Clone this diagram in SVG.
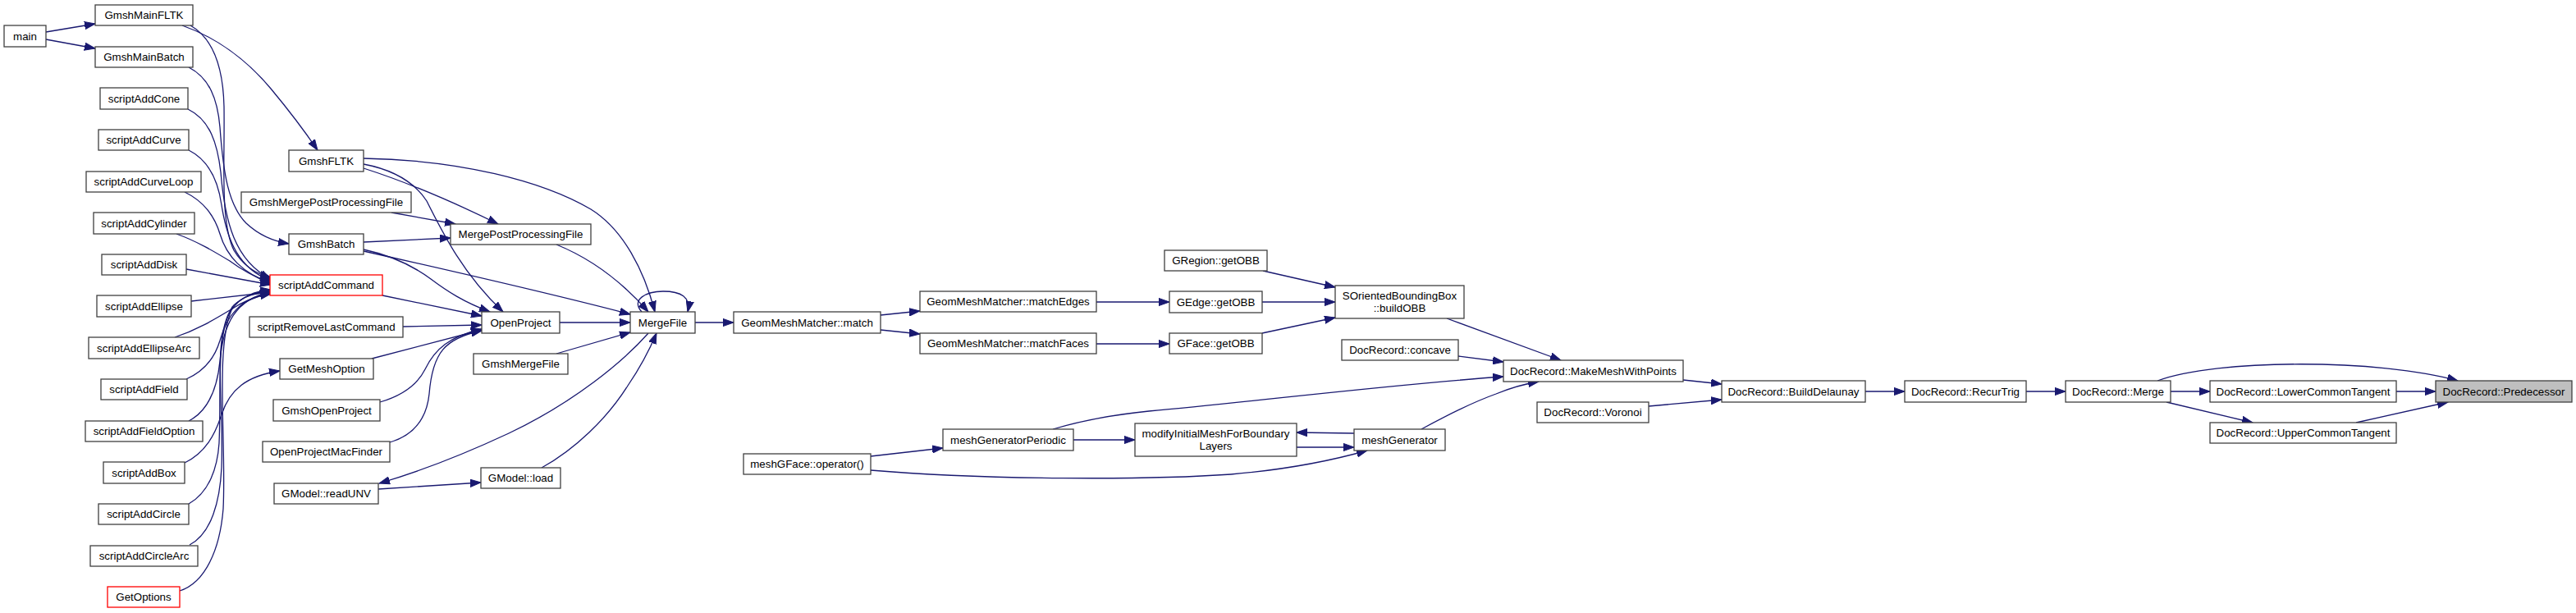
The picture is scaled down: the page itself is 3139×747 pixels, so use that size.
<svg xmlns="http://www.w3.org/2000/svg" width="3139" height="747" viewBox="0 0 3139 747">
<style>
.node rect{fill:#ffffff;stroke:#404040;stroke-width:1.3}
.node.red rect{stroke:#ff0000}
.node.root rect{fill:#bfbfbf}
.node text{font-family:"Liberation Sans",Arial,sans-serif;font-size:13.33px;text-anchor:middle;fill:#000000}
.edges path{fill:none;stroke:#191970;stroke-width:1.3;marker-end:url(#ah)}
</style>
<defs>
<marker id="ah" markerUnits="userSpaceOnUse" markerWidth="14" markerHeight="10" viewBox="0 0 14 10" refX="13" refY="5" orient="auto">
<path d="M0,0.4 L13,5 L0,9.6 z" fill="#191970" stroke="#191970" stroke-width="1"/>
</marker>
</defs>
<rect x="0" y="0" width="3139" height="747" fill="#ffffff"/>
<g class="edges">
<path d="M56,39 L116,29"/>
<path d="M56,48 L116,59"/>
<path d="M222,31 C262,45 300,72 330,108 C350,132 370,158 387,183"/>
<path d="M232,31 C262,48 272,85 273,130 C274,200 268,270 285,305 C297,325 312,334 330,338"/>
<path d="M230,82 C255,95 265,120 268,155 C272,210 278,250 300,272 C316,287 333,294 352,297"/>
<path d="M229,133 C256,146 265,175 269,210 C274,270 286,318 330,340"/>
<path d="M230,183 C256,196 266,222 270,250 C277,295 292,328 330,342"/>
<path d="M225,234 C250,246 262,265 268,285 C276,312 296,334 330,344"/>
<path d="M215,285 C240,294 260,306 280,318 C296,330 312,338 330,346"/>
<path d="M227,328 L330,347"/>
<path d="M233,367 L330,356"/>
<path d="M213,411 C240,402 260,390 280,378 C295,368 312,361 330,358"/>
<path d="M227,462 C250,452 262,435 268,415 C276,385 292,364 330,357"/>
<path d="M230,513 C255,500 265,470 268,440 C272,395 287,364 330,356"/>
<path d="M225,564 C250,552 262,530 270,505 C280,475 300,458 341,452"/>
<path d="M230,614 C255,600 265,570 267,540 C270,470 262,405 285,372 C298,360 313,357 330,355"/>
<path d="M231,664 C258,650 268,610 270,570 C273,490 258,412 283,374 C296,360 313,356 330,354"/>
<path d="M219,720 C250,710 268,670 272,620 C276,540 262,425 282,378 C294,360 312,355 330,353"/>
<path d="M443,193 C560,195 660,220 720,255 C760,280 785,330 798,380"/>
<path d="M443,200 C480,207 505,222 520,245 C540,285 565,335 613,380"/>
<path d="M443,205 C490,220 550,245 607,273"/>
<path d="M477,259 L555,273"/>
<path d="M443,295 L549,290"/>
<path d="M443,304 C480,312 505,325 525,340 C545,355 565,368 597,380"/>
<path d="M443,306 C550,330 680,360 768,383"/>
<path d="M466,360 L587,385"/>
<path d="M491,398 L587,396"/>
<path d="M453,437 L587,402"/>
<path d="M463,490 C490,482 508,470 518,450 C530,425 548,410 587,401"/>
<path d="M475,539 C505,530 520,510 523,480 C527,430 542,412 587,403"/>
<path d="M682,393 L768,393"/>
<path d="M678,431 L768,405"/>
<path d="M678,298 C715,313 755,340 790,380"/>
<path d="M782,380 C768,365 788,355 808,355 C830,355 842,362 838,380"/>
<path d="M847,393 L894,393"/>
<path d="M790,406 C760,440 700,490 620,528 C560,556 510,575 462,589"/>
<path d="M461,596 L586,588"/>
<path d="M660,570 C700,548 740,510 765,470 C780,448 792,425 800,406"/>
<path d="M1073,384 L1121,379"/>
<path d="M1073,402 L1121,407"/>
<path d="M1336,368 L1425,368"/>
<path d="M1336,419 L1425,419"/>
<path d="M1539,330 L1627,350"/>
<path d="M1538,368 L1627,368"/>
<path d="M1538,406 L1627,387"/>
<path d="M1763,388 L1902,439"/>
<path d="M1777,434 L1832,441"/>
<path d="M1283,523 C1320,512 1360,505 1400,501 C1550,487 1700,468 1832,459"/>
<path d="M1732,523 C1765,505 1795,490 1823,480 C1840,473 1857,468 1875,465"/>
<path d="M1061,556 L1149,546"/>
<path d="M1061,573 C1200,585 1400,585 1500,578 C1570,572 1620,562 1666,549"/>
<path d="M1308,536 L1383,536"/>
<path d="M1580,545 L1650,545"/>
<path d="M1650,528 L1580,527"/>
<path d="M2051,463 L2098,468"/>
<path d="M2009,495 L2098,487"/>
<path d="M2273,477 L2321,477"/>
<path d="M2469,477 L2517,477"/>
<path d="M2645,477 L2693,477"/>
<path d="M2640,490 L2745,515"/>
<path d="M2629,464 C2700,437 2900,437 2995,464"/>
<path d="M2920,477 L2968,477"/>
<path d="M2871,515 L2983,490"/>
</g>
<g id="n_main" class="node"><rect x="5" y="31" width="51" height="26"/><text x="30.5" y="48.6">main</text></g>
<g id="n_GmshMainFLTK" class="node"><rect x="116" y="6" width="119" height="25"/><text x="175.5" y="23.1">GmshMainFLTK</text></g>
<g id="n_GmshMainBatch" class="node"><rect x="116" y="57" width="119" height="25"/><text x="175.5" y="74.1">GmshMainBatch</text></g>
<g id="n_scriptAddCone" class="node"><rect x="122" y="107" width="107" height="26"/><text x="175.5" y="124.6">scriptAddCone</text></g>
<g id="n_scriptAddCurve" class="node"><rect x="120" y="158" width="110" height="25"/><text x="175" y="175.1">scriptAddCurve</text></g>
<g id="n_scriptAddCurveLoop" class="node"><rect x="105" y="209" width="140" height="25"/><text x="175" y="226.1">scriptAddCurveLoop</text></g>
<g id="n_scriptAddCylinder" class="node"><rect x="114" y="259" width="123" height="26"/><text x="175.5" y="276.6">scriptAddCylinder</text></g>
<g id="n_scriptAddDisk" class="node"><rect x="124" y="310" width="103" height="25"/><text x="175.5" y="327.1">scriptAddDisk</text></g>
<g id="n_scriptAddEllipse" class="node"><rect x="118" y="360" width="115" height="26"/><text x="175.5" y="377.6">scriptAddEllipse</text></g>
<g id="n_scriptAddEllipseArc" class="node"><rect x="108" y="411" width="135" height="26"/><text x="175.5" y="428.6">scriptAddEllipseArc</text></g>
<g id="n_scriptAddField" class="node"><rect x="123" y="462" width="105" height="25"/><text x="175.5" y="479.1">scriptAddField</text></g>
<g id="n_scriptAddFieldOption" class="node"><rect x="104" y="513" width="143" height="25"/><text x="175.5" y="530.1">scriptAddFieldOption</text></g>
<g id="n_scriptAddBox" class="node"><rect x="126" y="563" width="99" height="26"/><text x="175.5" y="580.6">scriptAddBox</text></g>
<g id="n_scriptAddCircle" class="node"><rect x="120" y="614" width="110" height="25"/><text x="175" y="631.1">scriptAddCircle</text></g>
<g id="n_scriptAddCircleArc" class="node"><rect x="110" y="665" width="131" height="25"/><text x="175.5" y="682.1">scriptAddCircleArc</text></g>
<g id="n_GetOptions" class="node red"><rect x="131" y="715" width="88" height="25"/><text x="175" y="732.1">GetOptions</text></g>
<g id="n_GmshFLTK" class="node"><rect x="352" y="183" width="91" height="26"/><text x="397.5" y="200.6">GmshFLTK</text></g>
<g id="n_GmshMergePostProcessingFile" class="node"><rect x="294" y="234" width="207" height="25"/><text x="397.5" y="251.1">GmshMergePostProcessingFile</text></g>
<g id="n_GmshBatch" class="node"><rect x="352" y="285" width="91" height="25"/><text x="397.5" y="302.1">GmshBatch</text></g>
<g id="n_scriptAddCommand" class="node red"><rect x="329" y="335" width="137" height="25"/><text x="397.5" y="352.1">scriptAddCommand</text></g>
<g id="n_scriptRemoveLastCommand" class="node"><rect x="304" y="386" width="187" height="25"/><text x="397.5" y="403.1">scriptRemoveLastCommand</text></g>
<g id="n_GetMeshOption" class="node"><rect x="341" y="437" width="114" height="25"/><text x="398" y="454.1">GetMeshOption</text></g>
<g id="n_GmshOpenProject" class="node"><rect x="333" y="487" width="130" height="26"/><text x="398" y="504.6">GmshOpenProject</text></g>
<g id="n_OpenProjectMacFinder" class="node"><rect x="320" y="538" width="155" height="25"/><text x="397.5" y="555.1">OpenProjectMacFinder</text></g>
<g id="n_GModel_readUNV" class="node"><rect x="334" y="589" width="127" height="25"/><text x="397.5" y="606.1">GModel::readUNV</text></g>
<g id="n_MergePostProcessingFile" class="node"><rect x="549" y="273" width="171" height="25"/><text x="634.5" y="290.1">MergePostProcessingFile</text></g>
<g id="n_OpenProject" class="node"><rect x="587" y="380" width="95" height="26"/><text x="634.5" y="397.6">OpenProject</text></g>
<g id="n_GmshMergeFile" class="node"><rect x="577" y="431" width="115" height="25"/><text x="634.5" y="448.1">GmshMergeFile</text></g>
<g id="n_GModel_load" class="node"><rect x="586" y="570" width="97" height="25"/><text x="634.5" y="587.1">GModel::load</text></g>
<g id="n_MergeFile" class="node"><rect x="768" y="380" width="79" height="26"/><text x="807.5" y="397.6">MergeFile</text></g>
<g id="n_match" class="node"><rect x="894" y="380" width="179" height="26"/><text x="983.5" y="397.6">GeomMeshMatcher::match</text></g>
<g id="n_meshGFace_op" class="node"><rect x="906" y="553" width="155" height="25"/><text x="983.5" y="570.1">meshGFace::operator()</text></g>
<g id="n_matchEdges" class="node"><rect x="1121" y="355" width="215" height="25"/><text x="1228.5" y="372.1">GeomMeshMatcher::matchEdges</text></g>
<g id="n_matchFaces" class="node"><rect x="1121" y="406" width="215" height="25"/><text x="1228.5" y="423.1">GeomMeshMatcher::matchFaces</text></g>
<g id="n_meshGeneratorPeriodic" class="node"><rect x="1149" y="523" width="159" height="26"/><text x="1228.5" y="540.6">meshGeneratorPeriodic</text></g>
<g id="n_GRegion_getOBB" class="node"><rect x="1419" y="305" width="125" height="25"/><text x="1481.5" y="322.1">GRegion::getOBB</text></g>
<g id="n_GEdge_getOBB" class="node"><rect x="1425" y="355" width="113" height="26"/><text x="1481.5" y="372.6">GEdge::getOBB</text></g>
<g id="n_GFace_getOBB" class="node"><rect x="1425" y="406" width="113" height="25"/><text x="1481.5" y="423.1">GFace::getOBB</text></g>
<g id="n_modifyInitialMesh" class="node"><rect x="1383" y="516" width="197" height="40"/><text x="1481.5" y="533">modifyInitialMeshForBoundary</text><text x="1481.5" y="548">Layers</text></g>
<g id="n_buildOBB" class="node"><rect x="1627" y="348" width="157" height="40"/><text x="1705.5" y="365">SOrientedBoundingBox</text><text x="1705.5" y="380">::buildOBB</text></g>
<g id="n_concave" class="node"><rect x="1635" y="414" width="142" height="25"/><text x="1706" y="431.1">DocRecord::concave</text></g>
<g id="n_meshGenerator" class="node"><rect x="1650" y="523" width="111" height="26"/><text x="1705.5" y="540.6">meshGenerator</text></g>
<g id="n_MakeMeshWithPoints" class="node"><rect x="1832" y="439" width="219" height="26"/><text x="1941.5" y="456.6">DocRecord::MakeMeshWithPoints</text></g>
<g id="n_Voronoi" class="node"><rect x="1873" y="490" width="136" height="25"/><text x="1941" y="507.1">DocRecord::Voronoi</text></g>
<g id="n_BuildDelaunay" class="node"><rect x="2098" y="464" width="175" height="26"/><text x="2185.5" y="481.6">DocRecord::BuildDelaunay</text></g>
<g id="n_RecurTrig" class="node"><rect x="2321" y="464" width="148" height="26"/><text x="2395" y="481.6">DocRecord::RecurTrig</text></g>
<g id="n_Merge" class="node"><rect x="2517" y="464" width="128" height="26"/><text x="2581" y="481.6">DocRecord::Merge</text></g>
<g id="n_LowerCommonTangent" class="node"><rect x="2693" y="464" width="227" height="26"/><text x="2806.5" y="481.6">DocRecord::LowerCommonTangent</text></g>
<g id="n_UpperCommonTangent" class="node"><rect x="2693" y="515" width="227" height="25"/><text x="2806.5" y="532.1">DocRecord::UpperCommonTangent</text></g>
<g id="n_Predecessor" class="node root"><rect x="2968" y="464" width="166" height="26"/><text x="3051" y="481.6">DocRecord::Predecessor</text></g>
</svg>
